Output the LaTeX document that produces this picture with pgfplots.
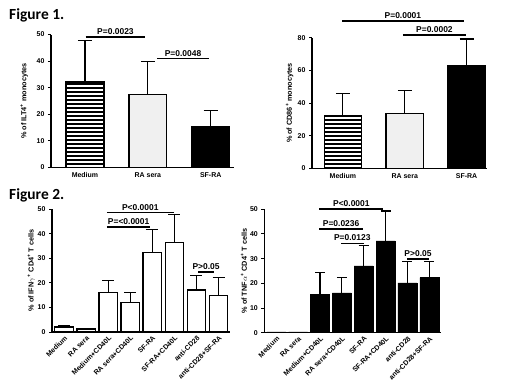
\documentclass[border=0pt]{standalone}
\usepackage{fontspec}
\setmainfont{Liberation Sans}
\newfontfamily\figfont{Carlito}
\usepackage{pgfplots}
\pgfplotsset{compat=1.18}
\usetikzlibrary{patterns.meta}

\newcommand\pv{\fontsize{8.5}{9}\selectfont\bfseries}
\newcommand\tl{\fontsize{7}{8}\selectfont\bfseries}

\pgfplotsset{
 panel/.style={scale only axis, anchor=south west, clip=false,
  axis x line=bottom, axis y line=left,
  axis line style={line width=1.2bp,-},
  ymin=0, enlargelimits=false,
  ytick align=outside, major tick length=3bp,
  ytick style={line width=1bp, black},
  xtick style={draw=none},
  tick label style={font=\tl},
  /pgf/number format/assume math mode=true,
  ylabel style={font=\fontsize{7.3}{8}\selectfont\bfseries, anchor=south, inner sep=0pt},
 },
 eb/.style={error bars/.cd, y dir=plus, y explicit, error mark=|,
   error bar style={line width=1.1bp, black},
   error mark options={mark size=#1, line width=1.1bp, black}},
}

\begin{document}
\begin{tikzpicture}
\path[use as bounding box] (0,0) rectangle (510bp,-388bp);

\node[anchor=base west, font=\fontsize{15.5}{18}\selectfont\figfont\bfseries, inner sep=0pt] at (9bp,-19bp) {Figure 1.};
\node[anchor=base west, font=\fontsize{15.5}{18}\selectfont\figfont\bfseries, inner sep=0pt] at (9bp,-199bp) {Figure 2.};

% Panel 1
\begin{axis}[panel, at={(51bp,-167.5bp)}, width=183bp, height=133bp,
 xmin=-0.54, xmax=2.37, ymax=50, ytick={0,10,...,50},
 xtick={0,1,2}, xticklabels={Medium,RA sera,SF-RA},
 ylabel={\% of ILT4\textsuperscript{+} monocytes},
 ylabel style={at={(axis description cs:-0.125,0.5)}}]
\addplot[ybar, bar width=0.6, bar shift=0pt, draw=black, line width=1.5bp,
  pattern={Lines[angle=0,distance=4bp,line width=1.2bp]}, eb=7bp]
  coordinates {(0,32.1) +- (0,15.8)};
\addplot[ybar, bar width=0.6, bar shift=0pt, draw=black, line width=1.5bp,
  fill=gray!12, eb=7bp]
  coordinates {(1,27.5) +- (0,12.3)};
\addplot[ybar, bar width=0.6, bar shift=0pt, draw=black, line width=1.5bp,
  fill=black, eb=7bp]
  coordinates {(2,15.3) +- (0,6.1)};
\draw[line width=1.6bp] (axis cs:0.01,49) -- node[above, font=\pv, inner sep=1.5bp] {P=0.0023} (axis cs:0.96,49);
\draw[line width=1.6bp] (axis cs:1.15,41) -- node[above, font=\pv, inner sep=1.5bp] {P=0.0048} (axis cs:1.97,41);
\end{axis}

% Panel 2
\begin{axis}[panel, at={(312bp,-168.3bp)}, width=175bp, height=130.6bp,
 xmin=-0.5, xmax=2.33, ymax=80, ytick={0,20,...,80},
 xtick={0,1,2}, xticklabels={Medium,RA sera,SF-RA},
 ylabel={\% of CD86\textsuperscript{+} monocytes},
 ylabel style={at={(axis description cs:-0.105,0.5)}}]
\addplot[ybar, bar width=0.6, bar shift=0pt, draw=black, line width=1.5bp,
  pattern={Lines[angle=0,distance=4bp,line width=1.2bp]}, eb=7bp]
  coordinates {(0,32.2) +- (0,13.5)};
\addplot[ybar, bar width=0.6, bar shift=0pt, draw=black, line width=1.5bp,
  fill=gray!12, eb=7bp]
  coordinates {(1,33.5) +- (0,14.3)};
\addplot[ybar, bar width=0.6, bar shift=0pt, draw=black, line width=1.5bp,
  fill=black, eb=7bp]
  coordinates {(2,62.7) +- (0,16.5)};
\draw[line width=1.6bp] (axis cs:-0.01,90.2) -- node[above, font=\pv, inner sep=1.5bp] {P=0.0001} (axis cs:1.95,90.2);
\draw[line width=1.6bp] (axis cs:0.97,81.6) -- node[above, font=\pv, inner sep=1.5bp] {P=0.0002} (axis cs:1.99,81.6);
\end{axis}

% Panel 3
\begin{axis}[panel, at={(52bp,-332bp)}, width=178bp, height=123bp,
 xmin=-0.55, xmax=7.52, ymax=50, ytick={0,10,...,50},
 xtick={0,...,7},
 xticklabels={Medium,RA sera,Medium+CD40L,RA sera+CD40L,SF-RA,SF-RA+CD40L,anti-CD28,anti-CD28+SF-RA},
 xticklabel style={rotate=45, anchor=north east, font=\fontsize{7}{7}\selectfont\bfseries, inner sep=1bp},
 ylabel={\% of IFN$\gamma$\textsuperscript{+} CD4\textsuperscript{+} T cells},
 ylabel style={at={(axis description cs:-0.095,0.5)}}]
\addplot[ybar, bar width=0.84, bar shift=0pt, draw=black, line width=1.2bp,
  fill=white, eb=6bp]
  coordinates {(0,2.0) +- (0,0.6) (1,1.2) +- (0,0.4) (2,16.1) +- (0,5.0) (3,11.9) +- (0,4.2)
  (4,32.2) +- (0,9.3) (5,36.4) +- (0,11.2) (6,17.1) +- (0,5.8) (7,15.0) +- (0,7.1)};
\draw[line width=1.6bp] (axis cs:1.94,48.6) -- node[above, font=\pv, inner sep=1.5bp] {P<0.0001} (axis cs:4.97,48.6);
\draw[line width=1.6bp] (axis cs:1.94,42.6) -- node[above, font=\pv, inner sep=1.5bp] {P=<0.0001} (axis cs:3.91,42.6);
\draw[line width=1.6bp] (axis cs:6.08,24.5) -- node[above, font=\pv, inner sep=1.5bp] {P>0.05} (axis cs:6.79,24.5);
\end{axis}

% Panel 4
\begin{axis}[panel, at={(264.3bp,-332.7bp)}, width=177bp, height=123.4bp,
 xmin=-0.55, xmax=7.55, ymax=50, ytick={0,10,...,50},
 xtick={0,...,7},
 xticklabels={Medium,RA sera,Medium+CD40L,RA sera+CD40L,SF-RA,SF-RA+CD40L,anti-CD28,anti-CD28+SF-RA},
 xticklabel style={rotate=45, anchor=north east, font=\fontsize{7}{7}\selectfont\bfseries, inner sep=1bp},
 ylabel={\% of TNF$\alpha$\textsuperscript{+} CD4\textsuperscript{+} T cells},
 ylabel style={at={(axis description cs:-0.097,0.5)}}]
\addplot[ybar, bar width=0.87, bar shift=0pt, draw=black, line width=0.5bp,
  fill=black]
  coordinates {(0,0.3) (1,0.3)};
\addplot[ybar, bar width=0.87, bar shift=0pt, draw=black, line width=0.5bp,
  fill=black, eb=5bp]
  coordinates {(2,15.5) +- (0,8.9) (3,16.1) +- (0,6.3)
  (4,27.1) +- (0,8.1) (5,37.2) +- (0,12.1) (6,20.2) +- (0,8.8) (7,22.3) +- (0,6.7)};
\draw[line width=1.6bp] (axis cs:1.97,50.1) -- node[above, font=\pv, inner sep=1.5bp] {P<0.0001} (axis cs:4.9,50.1);
\draw[line width=1.6bp] (axis cs:1.97,42) -- node[above, font=\pv, inner sep=1.5bp] {P=0.0236} (axis cs:3.96,42);
\draw[line width=1.6bp] (axis cs:2.96,36.2) -- node[above, font=\pv, inner sep=1.5bp] {P=0.0123} (axis cs:3.99,36.2);
\draw[line width=1.6bp] (axis cs:6.0,29.8) -- node[above, font=\pv, inner sep=1.5bp] {P>0.05} (axis cs:6.97,29.8);
\end{axis}
\end{tikzpicture}
\end{document}
